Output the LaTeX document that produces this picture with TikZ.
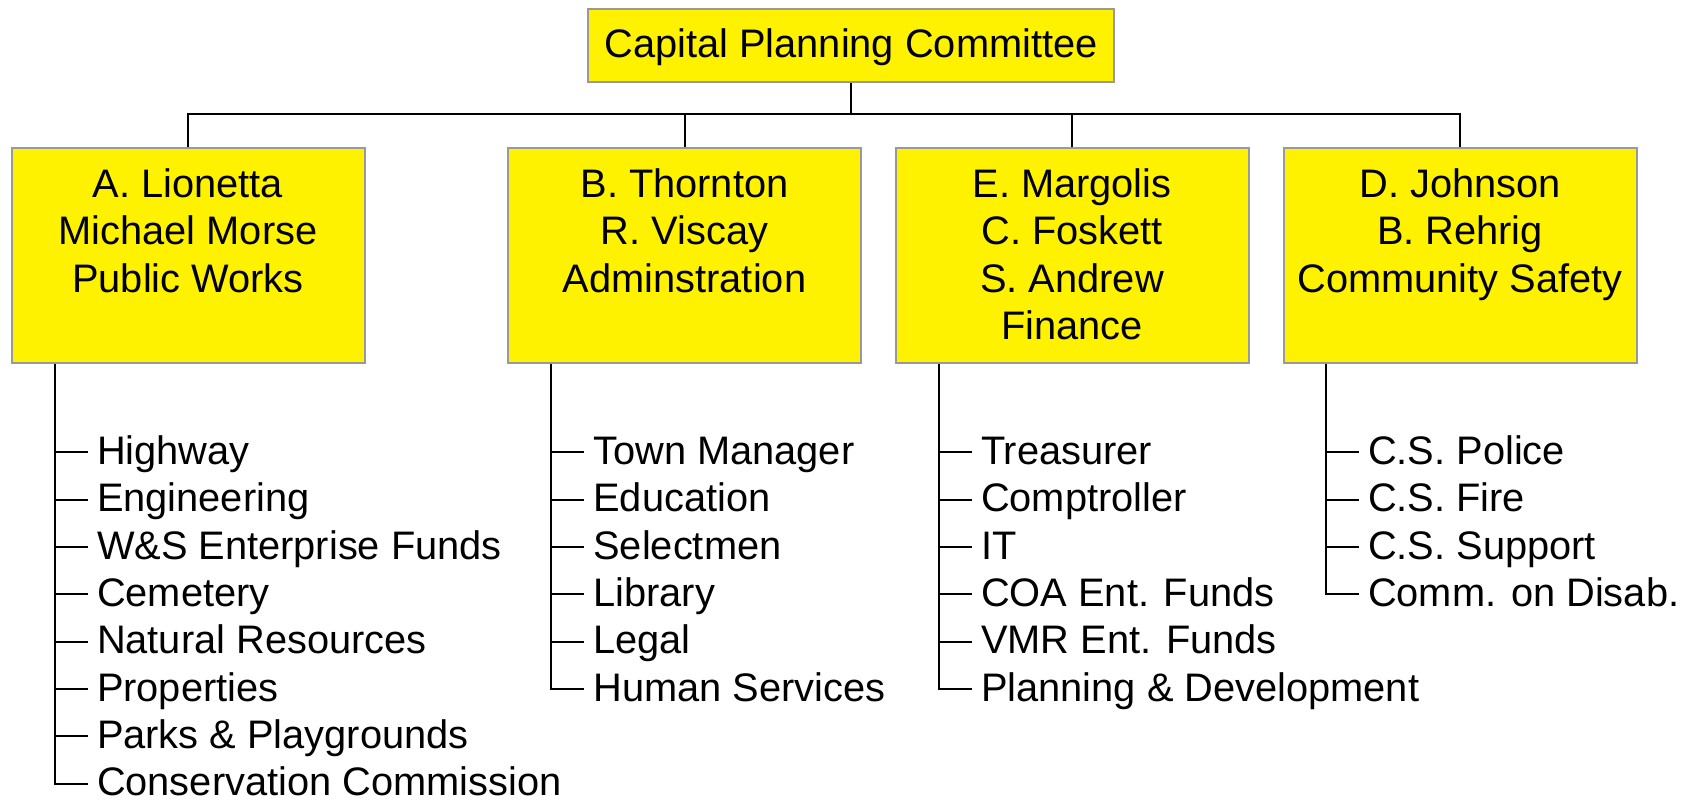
\documentclass[tikz,border=0pt]{standalone}
\usepackage{fontspec}
\setmainfont{Liberation Sans}
\usetikzlibrary{positioning}

\begin{document}
\begin{tikzpicture}[x=0.5pt, y=-0.5pt,
  every node/.style={font=\fontsize{19.9}{23.65}\selectfont},
  unit/.style={draw=black!40, line width=1pt, fill=yellow, minimum width=176.5pt, minimum height=107.5pt, inner sep=0pt},
  unittext/.style={align=center, anchor=north, inner sep=0pt},
  item/.style={anchor=west, inner xsep=4.5pt, inner ysep=0pt, text height=14pt, text depth=2pt},
  link/.style={line width=1pt}]
\path[use as bounding box, fill=white] (0,0) rectangle (1690,799);

% Committee and units
\node[unit, minimum width=263pt, minimum height=0pt, text height=24.15pt, text depth=12.35pt, anchor=base] (cpc) at (851,57.3) {Capital Planning Committee};
\node[unit] (pw) at (188,255.5) {};
\node[unit] (ad) at (684.5,255.5) {};
\node[unit] (fi) at (1072,255.5) {};
\node[unit] (cs) at (1460,255.5) {};
\node[unittext] (pw-t) at (188,168.2) {A. Lionetta\\Michael Morse\\Public Works};
\node[unittext] (ad-t) at (684.5,168.2) {B. Thornton\\R. Viscay\\Adminstration};
\node[unittext] (fi-t) at (1072,168.2) {E. Margolis\\C. Foskett\\S. Andrew\\Finance};
\node[unittext] (cs-t) at (1460,168.2) {D. Johnson\\B. Rehrig\\Community Safety};

% Bus
\coordinate (bus) at (0,114.3);
\draw[link] (cpc.south) -- (cpc.south |- bus);
\draw[link] (pw.north) -- (pw.north |- bus) -- (cs.north |- bus) -- (cs.north);
\draw[link] (ad.north) -- (ad.north |- bus);
\draw[link] (fi.north) -- (fi.north |- bus);

% Public Works departments
\coordinate (pw-l) at (54.6,0);
\node[item] (pw-1) at (87.6,452.3) {Highway};
\node[item] (pw-2) at (87.6,499.6) {Engineering};
\node[item] (pw-3) at (87.6,547.0) {W\&S Enterprise Funds};
\node[item] (pw-4) at (87.6,594.3) {Cemetery};
\node[item] (pw-5) at (87.6,641.6) {Natural Resources};
\node[item] (pw-6) at (87.6,689.0) {Properties};
\node[item] (pw-7) at (87.6,736.3) {Parks \& Playgrounds};
\node[item] (pw-8) at (87.6,783.6) {Conservation Commission};
\draw[link] (pw.south -| pw-l) |- (pw-8.west)
  (pw-l |- pw-1.west) -- (pw-1.west) (pw-l |- pw-2.west) -- (pw-2.west)
  (pw-l |- pw-3.west) -- (pw-3.west) (pw-l |- pw-4.west) -- (pw-4.west)
  (pw-l |- pw-5.west) -- (pw-5.west) (pw-l |- pw-6.west) -- (pw-6.west)
  (pw-l |- pw-7.west) -- (pw-7.west);

% Administration departments
\coordinate (ad-l) at (551,0);
\node[item] (ad-1) at (584,452.3) {Town Manager};
\node[item] (ad-2) at (584,499.6) {Education};
\node[item] (ad-3) at (584,547.0) {Selectmen};
\node[item] (ad-4) at (584,594.3) {Library};
\node[item] (ad-5) at (584,641.6) {Legal};
\node[item] (ad-6) at (584,689.0) {Human Services};
\draw[link] (ad.south -| ad-l) |- (ad-6.west)
  (ad-l |- ad-1.west) -- (ad-1.west) (ad-l |- ad-2.west) -- (ad-2.west)
  (ad-l |- ad-3.west) -- (ad-3.west) (ad-l |- ad-4.west) -- (ad-4.west)
  (ad-l |- ad-5.west) -- (ad-5.west);

% Finance departments
\coordinate (fi-l) at (938.7,0);
\node[item] (fi-1) at (971.7,452.3) {Treasurer};
\node[item] (fi-2) at (971.7,499.6) {Comptroller};
\node[item] (fi-3) at (971.7,547.0) {IT};
\node[item] (fi-4) at (971.7,594.3) {COA Ent. Funds};
\node[item] (fi-5) at (971.7,641.6) {VMR Ent. Funds};
\node[item] (fi-6) at (971.7,689.0) {Planning \& Development};
\draw[link] (fi.south -| fi-l) |- (fi-6.west)
  (fi-l |- fi-1.west) -- (fi-1.west) (fi-l |- fi-2.west) -- (fi-2.west)
  (fi-l |- fi-3.west) -- (fi-3.west) (fi-l |- fi-4.west) -- (fi-4.west)
  (fi-l |- fi-5.west) -- (fi-5.west);

% Community Safety departments
\coordinate (cs-l) at (1325.7,0);
\node[item] (cs-1) at (1358.7,452.3) {C.S. Police};
\node[item] (cs-2) at (1358.7,499.6) {C.S. Fire};
\node[item] (cs-3) at (1358.7,547.0) {C.S. Support};
\node[item] (cs-4) at (1358.7,594.3) {Comm. on Disab.};
\draw[link] (cs.south -| cs-l) |- (cs-4.west)
  (cs-l |- cs-1.west) -- (cs-1.west) (cs-l |- cs-2.west) -- (cs-2.west)
  (cs-l |- cs-3.west) -- (cs-3.west);
\end{tikzpicture}
\end{document}
